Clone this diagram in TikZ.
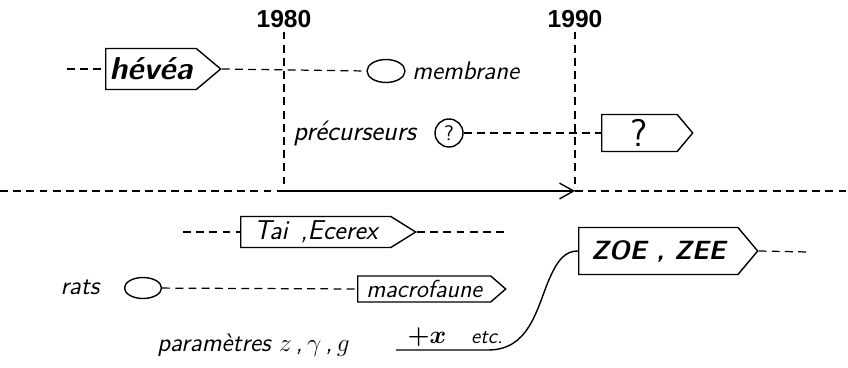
\documentclass[tikz,border=0pt]{standalone}
\usepackage{amsmath}
\usepackage{fontspec}
\newfontfamily\yearfont{Liberation Sans}
\usetikzlibrary{shapes.symbols,shapes.geometric,arrows.meta}

\tikzset{%
  every flag/.style={
    signal,
    signal to=east,
    signal from=nowhere,
    draw,
    line width=0.8pt,
    inner sep=0pt,
    anchor=west
  },
  every blob/.style={
    ellipse,
    draw,
    line width=0.8pt,
    inner sep=0pt
  },
  label text/.style={
    inner sep=0pt,
    font=\sffamily\itshape\fontsize{14.5}{17}\selectfont
  },
  year/.style={
    inner sep=2pt,
    font=\yearfont\bfseries\fontsize{14}{16}\selectfont
  },
  link/.style={
    line width=0.7pt,
    dash pattern=on 4.5pt off 3pt
  },
}

\begin{document}
\begin{tikzpicture}[x=0.02cm, y=-0.02cm, >={Straight Barb[length=8pt,width=9pt]}]

\useasboundingbox (0,0) rectangle (848,368);

% time axis
\coordinate (axis-l) at (0,191);
\coordinate (axis-r) at (848,191);
\foreach \yr/\xx in {1980/284,1990/575} {
  \node [year] (year-\yr) at (\xx,19) {\yr};
  \coordinate (mark-\yr) at (\xx,191);
  \draw [link] (year-\yr.south) -- (mark-\yr);
}
\draw [link] (axis-l) -- (mark-1980);
\draw [->, line width=0.8pt] (mark-1980) -- (mark-1990);
\draw [link] (mark-1990) -- (axis-r);

% upper part
\coordinate (hevea-in) at (67,69);
\node [every flag, minimum width=2.3cm, minimum height=0.82cm, signal pointer angle=80,
  font=\sffamily\bfseries\itshape\fontsize{18}{20}\selectfont] (hevea) at (105,69) {hévéa};
\node [every blob, minimum width=0.76cm, minimum height=0.46cm] (membrane-blob) at (386,71) {};
\node [label text, anchor=west] (membrane) at (412,71) {membrane};
\draw [link] (hevea-in) -- (hevea.west);
\draw [link] (hevea.east) -- (membrane-blob.west);

\node [label text, anchor=west, font=\sffamily\itshape\fontsize{16}{18}\selectfont] (precursors) at (293,133) {précurseurs};
\node [every blob, circle, minimum size=0.56cm,
  font=\sffamily\fontsize{12}{14}\selectfont] (query-blob) at (449,133) {?};
\node [every flag, minimum width=1.82cm, minimum height=0.74cm, signal pointer angle=100,
  font=\sffamily\fontsize{22}{24}\selectfont] (query) at (601,133) {?};
\draw [link] (query-blob) -- (query.west);

% lower part
\coordinate (tai-in) at (183,232);
\coordinate (tai-out) at (508,232);
\node [every flag, minimum width=3.5cm, minimum height=0.62cm, signal pointer angle=64,
  font=\sffamily\itshape\fontsize{15.5}{18}\selectfont] (tai) at (240,232) {Tai\, ,Ecerex};
\draw [link] (tai-in) -- (tai.west);
\draw [link] (tai.east) -- (tai-out);

\node [label text] (rats) at (80,287) {rats};
\node [every blob, minimum width=0.74cm, minimum height=0.42cm] (rats-blob) at (143,288) {};
\node [every flag, minimum width=2.96cm, minimum height=0.52cm, signal pointer angle=82,
  font=\sffamily\itshape\fontsize{14}{16}\selectfont] (macro) at (357,289) {macrofaune};
\draw [link] (rats-blob) -- (macro.west);

\node [every flag, minimum width=3.58cm, minimum height=0.94cm, signal pointer angle=100,
  font=\sffamily\bfseries\itshape\fontsize{15}{18}\selectfont] (zoe) at (578,251) {ZOE , ZEE};
\coordinate (zoe-out) at (808,252);
\draw [link] (zoe.east) -- (zoe-out);

\node [label text, anchor=west] (params) at (157,345) {paramètres $z$\,,\,$\gamma$\,,\,$g$};
\node [inner sep=0pt, font=\fontsize{14}{16}\selectfont] (plus-x) at (427,337) {$\boldsymbol{+x}$};
\node [label text, font=\sffamily\itshape\fontsize{12}{14}\selectfont] (etc) at (487,338) {etc.};
\coordinate (under-in) at (396,350);
\draw [line width=0.8pt] (under-in) -- (488,350)
  .. controls (528,350) and (536,312) .. (548,282)
  .. controls (558,258) and (566,251) .. (zoe.west);

\end{tikzpicture}
\end{document}
